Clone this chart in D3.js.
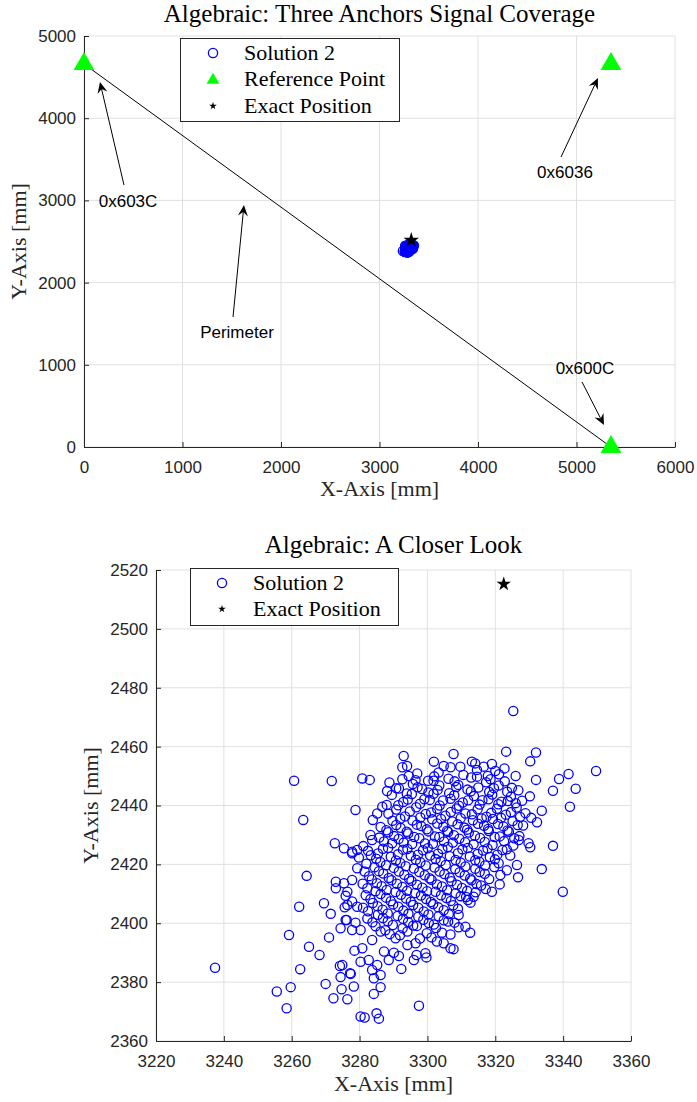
<!DOCTYPE html>
<html>
<head>
<meta charset="utf-8">
<script src="https://cdn.jsdelivr.net/npm/d3@7"></script>
<style>
body { margin: 0; background: #fff; }
</style>
</head>
<body>
<div class="chart"></div>
<script>
// reference anchors (mm)
var refX = [0, 5350, 5350];
var refY = [4660, 4660, 0];
var exactX = 3322.5, exactY = 2515.2;

var topXTicks = [0, 1000, 2000, 3000, 4000, 5000, 6000];
var topYTicks = [0, 1000, 2000, 3000, 4000, 5000];
var zoomXTicks = [3220, 3240, 3260, 3280, 3300, 3320, 3340, 3360];
var zoomYTicks = [2360, 2380, 2400, 2420, 2440, 2460, 2480, 2500, 2520];

// annotation arrows, data units of the top chart
var annoText = ["0x603C", "0x6036", "Perimeter", "0x600C"];
var annoTail = [[406, 3187], [4843, 3528], [1513, 1582], [5056, 791]];
var annoHead = [[162, 4440], [5218, 4489], [1624, 2944], [5279, 268]];
var annoLabel = [[447, 2993], [4883, 3345], [1553, 1399], [5086, 961]];

// Solution 2 estimates (x, y) in mm
var sol2 = [
  [3325.3,2472.1],[3323.2,2458.3],[3332.0,2458.0],[3330.3,2455.0],[3326.0,2450.0],[3332.0,2448.7],
  [3338.8,2449.0],[3341.6,2450.7],[3349.7,2451.7],[3337.0,2445.0],[3343.7,2445.7],[3342.0,2439.6],
  [3333.7,2438.2],[3332.3,2434.3],[3326.9,2428.3],[3329.8,2427.2],[3330.3,2425.8],[3337.0,2426.3],
  [3324.4,2423.0],[3326.4,2419.8],[3323.4,2418.0],[3333.7,2418.4],[3321.5,2416.4],[3326.7,2415.6],
  [3321.3,2413.2],[3319.0,2410.7],[3339.9,2410.7],
  [3278.8,2438.5],[3263.4,2435.1],[3272.7,2427.2],[3275.4,2425.5],[3277.8,2423.8],[3279.3,2424.9],
  [3264.4,2416.1],[3279.3,2418.7],[3273.0,2414.1],[3275.4,2413.6],[3277.8,2414.7],[3273.0,2411.9],
  [3276.4,2410.7],[3275.9,2409.3],[3262.2,2405.6],[3269.5,2406.8],[3277.8,2407.4],[3279.3,2405.6],
  [3271.5,2403.2],[3275.6,2405.4],[3259.2,2396.0],[3271.0,2395.2],[3274.4,2398.3],[3277.8,2397.7],
  [3276.2,2401.1],[3278.8,2400.2],[3265.1,2392.0],[3268.2,2389.2],[3237.4,2384.9],[3262.5,2384.4],
  [3278.5,2390.7],[3274.2,2385.5],[3277.4,2382.8],[3274.4,2381.7],[3270.0,2379.4],[3259.7,2378.3],
  [3255.6,2376.8],[3274.7,2377.6],[3278.3,2378.5],[3272.3,2374.5],[3276.4,2374.2],[3258.5,2371.1],
  [3280.3,2368.3],
  [3280.8,2391.5],[3287.2,2390.4],[3288.6,2387.5],[3292.3,2384.5],[3280.3,2386.9],[3282.7,2387.5],
  [3285.2,2385.8],[3283.7,2384.1],[3286.2,2382.4],[3284.2,2381.3],[3277.2,2383.0],[3274.9,2385.8],
  [3286.2,2378.3],[3284.2,2376.0],[3297.5,2372.0],[3281.5,2368.0],[3285.0,2369.4],[3285.7,2367.6],
  [3306.8,2391.5],[3307.7,2391.2],[3304.8,2393.2],[3302.8,2393.8],[3299.4,2389.8],[3299.7,2388.4],
  [3296.0,2387.5],[3296.8,2389.2],[3312.6,2396.8],[3311.2,2398.8],[3309.2,2398.6],[3309.2,2402.8],
  [3311.9,2407.9],[3294.1,2392.6],[3290.1,2390.0],[3291.6,2388.9],[3296.5,2393.2],[3294.1,2397.2],
  [3290.6,2394.9],[3286.2,2397.2],[3283.7,2394.3],[3280.3,2397.7],[3275.9,2401.1],[3276.4,2406.2],
  [3293.0,2456.8],[3292.6,2453.0],[3294.0,2453.4],[3294.5,2450.0],[3292.6,2448.9],[3280.8,2449.2],
  [3283.0,2448.7],[3288.8,2447.8],[3291.6,2445.8],[3301.9,2454.9],[3307.7,2457.5],[3304.8,2453.4],
  [3306.8,2453.0],[3309.7,2453.2],[3313.1,2454.9],[3314.1,2454.3],[3314.6,2452.1],[3314.6,2449.8],
  [3319.0,2454.1],[3316.6,2453.2],[3320.0,2451.7],[3300.2,2448.4],[3301.8,2448.4],
  [3260.7,2448.4],[3271.8,2448.3],
  // dense core
  [3288.1,2444.9],[3295.7,2447.3],[3298.4,2445.6],[3303.5,2446.8],[3306.2,2449.1],[3309.1,2447.0],
  [3311.8,2445.4],[3317.3,2447.9],[3319.6,2445.9],[3322.8,2448.2],[3324.9,2446.0],[3297.0,2450.9],
  [3303.3,2451.2],[3310.6,2450.4],[3317.8,2450.0],[3322.7,2452.6],
  [3289.5,2443.6],[3292.9,2441.2],[3295.4,2443.9],[3299.1,2442.1],[3301.8,2444.0],[3304.6,2441.7],
  [3307.9,2443.5],[3310.4,2441.0],[3313.7,2443.2],[3316.2,2441.8],[3319.1,2443.7],[3321.8,2441.3],
  [3324.6,2443.0],[3327.9,2441.6],[3330.2,2443.1],
  [3285.2,2437.3],[3286.7,2439.6],[3288.0,2440.2],[3290.8,2438.6],[3293.4,2436.3],[3296.7,2439.4],
  [3299.5,2437.1],[3302.9,2438.8],[3305.3,2436.5],[3308.6,2439.0],[3311.2,2437.3],[3314.8,2438.7],
  [3317.4,2436.2],[3320.5,2438.9],[3323.1,2436.9],[3326.3,2439.3],[3328.9,2437.4],
  [3283.9,2435.1],[3286.2,2432.7],[3289.7,2434.8],[3292.1,2432.4],[3295.6,2434.9],[3298.2,2433.0],
  [3301.4,2435.3],[3304.7,2432.8],[3307.3,2434.6],[3310.9,2432.5],[3313.4,2435.0],[3316.7,2433.1],
  [3319.3,2435.4],[3322.4,2432.9],[3325.1,2434.7],[3328.2,2433.2],[3330.6,2435.8],
  [3283.2,2430.0],[3285.8,2429.1],[3288.4,2430.9],[3291.5,2428.6],[3294.3,2430.5],[3297.6,2428.9],
  [3300.3,2431.2],[3303.5,2429.3],[3306.1,2431.0],[3309.4,2428.7],[3312.2,2430.8],[3315.5,2429.0],
  [3318.1,2431.3],[3321.3,2429.5],[3324.0,2431.1],[3327.1,2429.6],
  [3281.1,2426.2],[3283.7,2428.3],[3286.9,2425.3],[3289.6,2427.2],[3292.8,2425.0],[3295.5,2426.9],
  [3298.7,2424.8],[3301.6,2427.0],[3304.4,2425.2],[3307.5,2427.4],[3310.3,2425.1],[3313.6,2426.8],
  [3316.4,2424.7],[3319.2,2426.6],[3322.1,2424.9],[3325.3,2426.4],
  [3277.8,2424.3],[3279.8,2422.3],[3283.3,2423.1],[3286.1,2420.8],[3289.2,2422.6],[3292.0,2420.5],
  [3295.1,2422.9],[3297.9,2420.7],[3300.8,2423.0],[3303.9,2421.1],[3306.6,2422.8],[3309.8,2420.6],
  [3312.5,2422.7],[3315.3,2420.9],[3318.4,2422.5],[3321.0,2420.4],
  [3281.5,2417.6],[3284.4,2419.0],[3287.0,2416.9],[3290.1,2418.8],[3293.2,2416.5],[3296.0,2418.6],
  [3299.2,2416.3],[3302.1,2418.9],[3305.0,2416.7],[3308.2,2418.4],[3311.0,2416.2],[3314.1,2418.5],
  [3316.9,2416.8],[3319.7,2419.1],
  [3280.9,2413.4],[3283.6,2414.9],[3286.5,2412.6],[3289.4,2414.6],[3292.6,2412.3],[3295.3,2414.4],
  [3298.5,2412.1],[3301.2,2414.8],[3304.3,2412.5],[3307.1,2414.3],[3310.2,2412.0],[3313.0,2414.6],
  [3315.8,2412.8],
  [3281.8,2409.5],[3284.7,2410.9],[3287.8,2408.7],[3290.6,2410.6],[3293.7,2408.4],[3296.4,2410.3],
  [3299.6,2408.2],[3302.4,2410.7],[3305.6,2408.6],[3308.3,2410.2],[3311.4,2408.9],[3314.2,2410.5],
  [3313.6,2409.0],
  [3281.0,2405.3],[3283.9,2406.9],[3286.8,2404.6],[3289.9,2406.4],[3292.9,2404.3],[3295.8,2406.2],
  [3298.9,2404.0],[3301.7,2406.5],[3304.8,2404.4],[3307.6,2406.1],
  [3282.3,2401.6],[3285.4,2402.9],[3288.3,2400.7],[3291.2,2402.5],[3294.3,2400.4],[3297.3,2402.2],
  [3300.4,2400.1],[3303.3,2402.4],[3306.1,2400.6],
  [3284.7,2399.0],[3287.6,2397.6],[3292.7,2398.3],[3296.9,2399.1],[3299.8,2396.6],[3302.5,2398.4],
  [3306.8,2396.2],
  // second overlapping layer of the core
  [3296.5,2448.6],[3302.0,2449.9],[3308.0,2448.2],[3312.9,2449.5],[3318.6,2448.9],[3321.1,2450.6],
  [3290.8,2445.9],[3293.9,2444.1],[3297.1,2446.2],[3300.3,2444.4],[3303.0,2445.3],[3306.4,2444.2],
  [3308.5,2446.3],[3312.8,2444.8],[3315.0,2446.1],[3318.2,2444.6],[3321.0,2446.8],[3323.5,2444.7],
  [3326.8,2445.2],
  [3291.4,2440.1],[3294.2,2442.0],[3297.8,2440.6],[3300.7,2441.9],[3303.6,2440.0],[3306.8,2442.3],
  [3309.3,2439.9],[3312.0,2441.8],[3315.4,2440.3],[3318.0,2442.1],[3320.9,2440.4],[3323.7,2441.5],
  [3326.0,2440.8],
  [3288.5,2437.2],[3292.0,2435.5],[3294.8,2438.0],[3297.9,2435.9],[3301.1,2437.6],[3304.0,2435.4],
  [3306.9,2437.8],[3309.8,2435.7],[3313.1,2437.0],[3316.0,2435.6],[3318.8,2437.5],[3321.7,2435.8],
  [3324.6,2437.7],[3327.3,2436.1],
  [3287.9,2431.6],[3290.8,2433.4],[3293.9,2431.1],[3296.9,2433.5],[3299.8,2431.9],[3302.9,2433.9],
  [3305.8,2431.4],[3308.9,2433.6],[3311.7,2431.8],[3314.9,2433.8],[3317.9,2432.0],[3320.8,2433.7],
  [3323.6,2431.5],[3326.6,2433.4],
  [3287.2,2427.8],[3290.2,2429.6],[3293.0,2427.4],[3296.1,2429.3],[3299.3,2427.1],[3302.2,2429.5],
  [3304.9,2427.8],[3307.8,2429.9],[3311.1,2427.5],[3314.0,2429.7],[3316.9,2427.6],[3319.8,2429.3],
  [3322.6,2427.9],[3325.6,2428.9],
  [3282.5,2424.6],[3285.4,2423.7],[3288.4,2425.6],[3291.3,2423.4],[3294.1,2425.2],[3297.2,2423.3],
  [3300.1,2425.5],[3303.1,2423.6],[3306.0,2425.9],[3309.0,2423.8],[3311.9,2425.6],[3314.8,2423.5],
  [3317.7,2425.4],[3320.6,2423.3],[3323.4,2425.1],
  [3282.0,2420.2],[3284.9,2421.9],[3287.8,2419.7],[3290.7,2421.3],[3293.6,2419.4],[3296.6,2421.6],
  [3299.5,2419.6],[3302.4,2421.8],[3305.4,2419.8],[3308.3,2421.5],[3311.2,2419.3],[3314.1,2421.4],
  [3317.0,2419.6],[3319.9,2421.7],
  [3282.8,2416.0],[3285.7,2417.7],[3288.6,2415.4],[3291.6,2417.6],[3294.6,2415.1],[3297.6,2417.4],
  [3300.6,2415.3],[3303.6,2417.6],[3306.6,2415.5],[3309.5,2417.3],[3312.6,2415.2],[3315.4,2417.4],
  [3318.2,2415.0],
  [3282.3,2411.9],[3285.1,2413.6],[3288.0,2411.3],[3291.0,2413.4],[3294.0,2411.0],[3296.9,2413.1],
  [3299.9,2410.9],[3302.8,2413.2],[3305.8,2411.2],[3308.7,2413.1],[3311.7,2411.0],[3314.5,2413.3],
  [3317.2,2411.6],
  [3283.2,2408.2],[3286.2,2409.9],[3289.2,2407.5],[3292.2,2409.7],[3295.1,2407.3],[3298.1,2409.4],
  [3301.0,2407.2],[3304.0,2409.5],[3306.9,2407.6],[3309.8,2409.2],[3312.7,2407.0],
  [3282.5,2404.1],[3285.3,2405.8],[3288.3,2403.3],[3291.4,2405.6],[3294.4,2403.2],[3297.3,2405.3],
  [3300.3,2403.0],[3303.2,2405.4],[3306.3,2403.1],[3309.0,2404.9],
  [3283.8,2400.3],[3286.9,2401.8],[3289.8,2399.4],[3292.8,2401.5],[3295.8,2399.2],[3298.8,2401.2],
  [3301.9,2399.6],[3304.8,2401.0],[3308.0,2400.2],
  [3288.9,2396.3],[3291.9,2395.9],[3297.8,2394.8],[3301.2,2395.2],[3304.3,2396.8]
];

var W = 697, H = 1102;
var axisColor = "#262626", gridColor = "#e0e0e0";
var serif = "'Liberation Serif', 'Times New Roman', serif";
var sans = "'Liberation Sans', Arial, sans-serif";

var svg = d3.select(".chart").append("svg")
    .attr("width", W)
    .attr("height", H)
    .style("background", "#fff");

// draws grid, axes, title and axis labels for one panel
function panel(x, y, xTicks, yTicks, title, titleY, xLabY, yLabX) {
    var g = svg.append("g");
    var x0 = x.range()[0], x1 = x.range()[1];
    var y0 = y.range()[0], y1 = y.range()[1];

    g.selectAll("line.gx").data(xTicks).enter().append("line")
        .attr("x1", function (d) { return x(d); })
        .attr("x2", function (d) { return x(d); })
        .attr("y1", y0).attr("y2", y1)
        .attr("stroke", gridColor).attr("stroke-width", 1);
    g.selectAll("line.gy").data(yTicks).enter().append("line")
        .attr("y1", function (d) { return y(d); })
        .attr("y2", function (d) { return y(d); })
        .attr("x1", x0).attr("x2", x1)
        .attr("stroke", gridColor).attr("stroke-width", 1);

    var fmt = d3.format("d");
    var ax = g.append("g")
        .attr("transform", "translate(0," + y0 + ")")
        .call(d3.axisBottom(x).tickValues(xTicks).tickFormat(fmt)
            .tickSizeInner(-5).tickSizeOuter(0).tickPadding(14));
    var ay = g.append("g")
        .attr("transform", "translate(" + x0 + ",0)")
        .call(d3.axisLeft(y).tickValues(yTicks).tickFormat(fmt)
            .tickSizeInner(-5).tickSizeOuter(0).tickPadding(8));
    [ax, ay].forEach(function (a) {
        a.selectAll("path, line").attr("stroke", axisColor);
        a.selectAll("text").attr("fill", axisColor)
            .style("font-family", sans).style("font-size", "17px");
    });

    g.append("text")
        .attr("x", (x0 + x1) / 2).attr("y", titleY)
        .attr("text-anchor", "middle")
        .style("font-family", serif).style("font-size", "25px")
        .attr("fill", "#000")
        .text(title);
    g.append("text")
        .attr("x", (x0 + x1) / 2).attr("y", xLabY)
        .attr("text-anchor", "middle")
        .style("font-family", serif).style("font-size", "22px")
        .attr("fill", axisColor)
        .text("X-Axis [mm]");
    g.append("text")
        .attr("transform", "translate(" + yLabX + "," + (y0 + y1) / 2 + ") rotate(-90)")
        .attr("text-anchor", "middle")
        .style("font-family", serif).style("font-size", "22px")
        .attr("fill", axisColor)
        .text("Y-Axis [mm]");
    return g;
}

function circles(g, x, y) {
    g.selectAll("circle.sol").data(sol2).enter().append("circle")
        .attr("cx", function (d) { return x(d[0]); })
        .attr("cy", function (d) { return y(d[1]); })
        .attr("r", 4.6)
        .attr("fill", "none")
        .attr("stroke", "#0000ff")
        .attr("stroke-width", 1.3);
}

function star(g, px, py, size) {
    g.append("path")
        .attr("d", d3.symbol(d3.symbolStar, size)())
        .attr("transform", "translate(" + px + "," + py + ")")
        .attr("fill", "#000");
}

function arrow(g, x1, y1, x2, y2) {
    var dx = x2 - x1, dy = y2 - y1, len = Math.sqrt(dx * dx + dy * dy);
    var ux = dx / len, uy = dy / len, nx = -uy, ny = ux;
    var L = 11, hw = 5;
    var bx = x2 - ux * L, by = y2 - uy * L;
    var mx = x2 - ux * L * 0.65, my = y2 - uy * L * 0.65;
    g.append("line")
        .attr("x1", x1).attr("y1", y1).attr("x2", mx).attr("y2", my)
        .attr("stroke", "#000").attr("stroke-width", 1);
    g.append("path")
        .attr("d", "M" + x2 + "," + y2 + "L" + (bx + nx * hw) + "," + (by + ny * hw) +
            "L" + mx + "," + my + "L" + (bx - nx * hw) + "," + (by - ny * hw) + "Z")
        .attr("fill", "#000");
}

// ---------- top chart ----------
var xs = d3.scaleLinear().domain([0, 6000]).range([84, 675]);
var ys = d3.scaleLinear().domain([0, 5000]).range([447, 36]);
var gTop = panel(xs, ys, topXTicks, topYTicks, "Algebraic: Three Anchors Signal Coverage", 22, 496, 26);

// perimeter line between the diagonal anchors
gTop.append("line")
    .attr("x1", xs(refX[0])).attr("y1", ys(refY[0]))
    .attr("x2", xs(refX[2])).attr("y2", ys(refY[2]))
    .attr("stroke", "#000").attr("stroke-width", 1);

circles(gTop, xs, ys);
star(gTop, xs(exactX), ys(exactY), 75);

gTop.selectAll("path.ref").data(d3.range(refX.length)).enter().append("path")
    .attr("d", d3.symbol(d3.symbolTriangle, 187)())
    .attr("transform", function (i) { return "translate(" + xs(refX[i]) + "," + ys(refY[i]) + ")"; })
    .attr("fill", "#00ff00");

annoText.forEach(function (t, i) {
    arrow(gTop, xs(annoTail[i][0]), ys(annoTail[i][1]), xs(annoHead[i][0]), ys(annoHead[i][1]));
    gTop.append("text")
        .attr("x", xs(annoLabel[i][0])).attr("y", ys(annoLabel[i][1]))
        .attr("dy", "0.35em")
        .attr("text-anchor", "middle")
        .style("font-family", sans).style("font-size", "17px")
        .attr("fill", "#000")
        .text(t);
});

// legend
var lgTop = gTop.append("g");
lgTop.append("rect")
    .attr("x", 180.5).attr("y", 38.5).attr("width", 219).attr("height", 83)
    .attr("fill", "#fff").attr("stroke", axisColor).attr("stroke-width", 1);
lgTop.append("circle").attr("cx", 213).attr("cy", 53).attr("r", 4.6)
    .attr("fill", "none").attr("stroke", "#0000ff").attr("stroke-width", 1.3);
lgTop.append("path").attr("d", d3.symbol(d3.symbolTriangle, 70)())
    .attr("transform", "translate(213,80)").attr("fill", "#00ff00");
star(lgTop, 213, 106, 18);
["Solution 2", "Reference Point", "Exact Position"].forEach(function (t, i) {
    lgTop.append("text")
        .attr("x", 244).attr("y", [53, 79, 106][i]).attr("dy", "0.33em")
        .style("font-family", serif).style("font-size", "22px")
        .attr("fill", "#000")
        .text(t);
});

// ---------- bottom chart ----------
var xz = d3.scaleLinear().domain([3220, 3360]).range([156, 631]);
var yz = d3.scaleLinear().domain([2360, 2520]).range([1041, 570]);
var gBot = panel(xz, yz, zoomXTicks, zoomYTicks, "Algebraic: A Closer Look", 553, 1091, 98);

circles(gBot, xz, yz);
star(gBot, xz(exactX), yz(exactY), 65);

var lgBot = gBot.append("g");
lgBot.append("rect")
    .attr("x", 190.5).attr("y", 568.5).attr("width", 208).attr("height", 57)
    .attr("fill", "#fff").attr("stroke", axisColor).attr("stroke-width", 1);
lgBot.append("circle").attr("cx", 222).attr("cy", 583).attr("r", 4.6)
    .attr("fill", "none").attr("stroke", "#0000ff").attr("stroke-width", 1.3);
star(lgBot, 222, 609, 18);
["Solution 2", "Exact Position"].forEach(function (t, i) {
    lgBot.append("text")
        .attr("x", 253).attr("y", [583, 609][i]).attr("dy", "0.33em")
        .style("font-family", serif).style("font-size", "22px")
        .attr("fill", "#000")
        .text(t);
});
</script>
</body>
</html>
